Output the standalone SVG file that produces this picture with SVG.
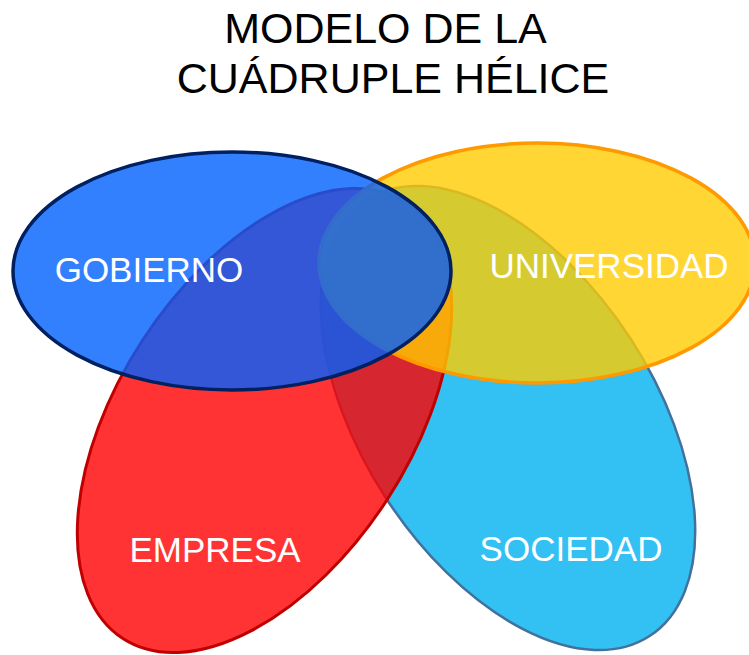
<svg xmlns="http://www.w3.org/2000/svg" width="749" height="655" viewBox="0 0 749 655">
<style>
.title{font-family:"Liberation Sans",Arial,sans-serif;font-size:43px;fill:#000;text-anchor:middle}
.lbl{font-family:"Liberation Sans",Arial,sans-serif;font-size:35px;fill:#fff;text-anchor:middle}
.shape{fill-opacity:0.8}
</style>
<rect width="749" height="655" fill="#fff"/>
<g id="title">
<text class="title" x="385.5" y="43">MODELO DE LA</text>
<text class="title" x="393" y="93">CUÁDRUPLE HÉLICE</text>
</g>
<g id="sociedad">
<ellipse class="shape" cx="508" cy="418" rx="260" ry="146" transform="rotate(57 508 418)" fill="#00B0F0" stroke="#41719C" stroke-width="2.5"/>
<text class="lbl" x="571" y="561">SOCIEDAD</text>
</g>
<g id="empresa">
<ellipse class="shape" cx="264.5" cy="420.5" rx="260" ry="146" transform="rotate(-57 264.5 420.5)" fill="#FF0000" stroke="#C00000" stroke-width="3"/>
<text class="lbl" x="215" y="562">EMPRESA</text>
</g>
<g id="universidad">
<ellipse class="shape" cx="537" cy="263" rx="218" ry="120" fill="#FFCC00" stroke="#FF9900" stroke-width="3.5"/>
<text class="lbl" x="609" y="278">UNIVERSIDAD</text>
</g>
<g id="gobierno">
<ellipse class="shape" cx="232" cy="271" rx="219" ry="119" fill="#0060FF" stroke="#002060" stroke-width="3.5"/>
<text class="lbl" x="149" y="282">GOBIERNO</text>
</g>
<g id="connectors"/>
</svg>
